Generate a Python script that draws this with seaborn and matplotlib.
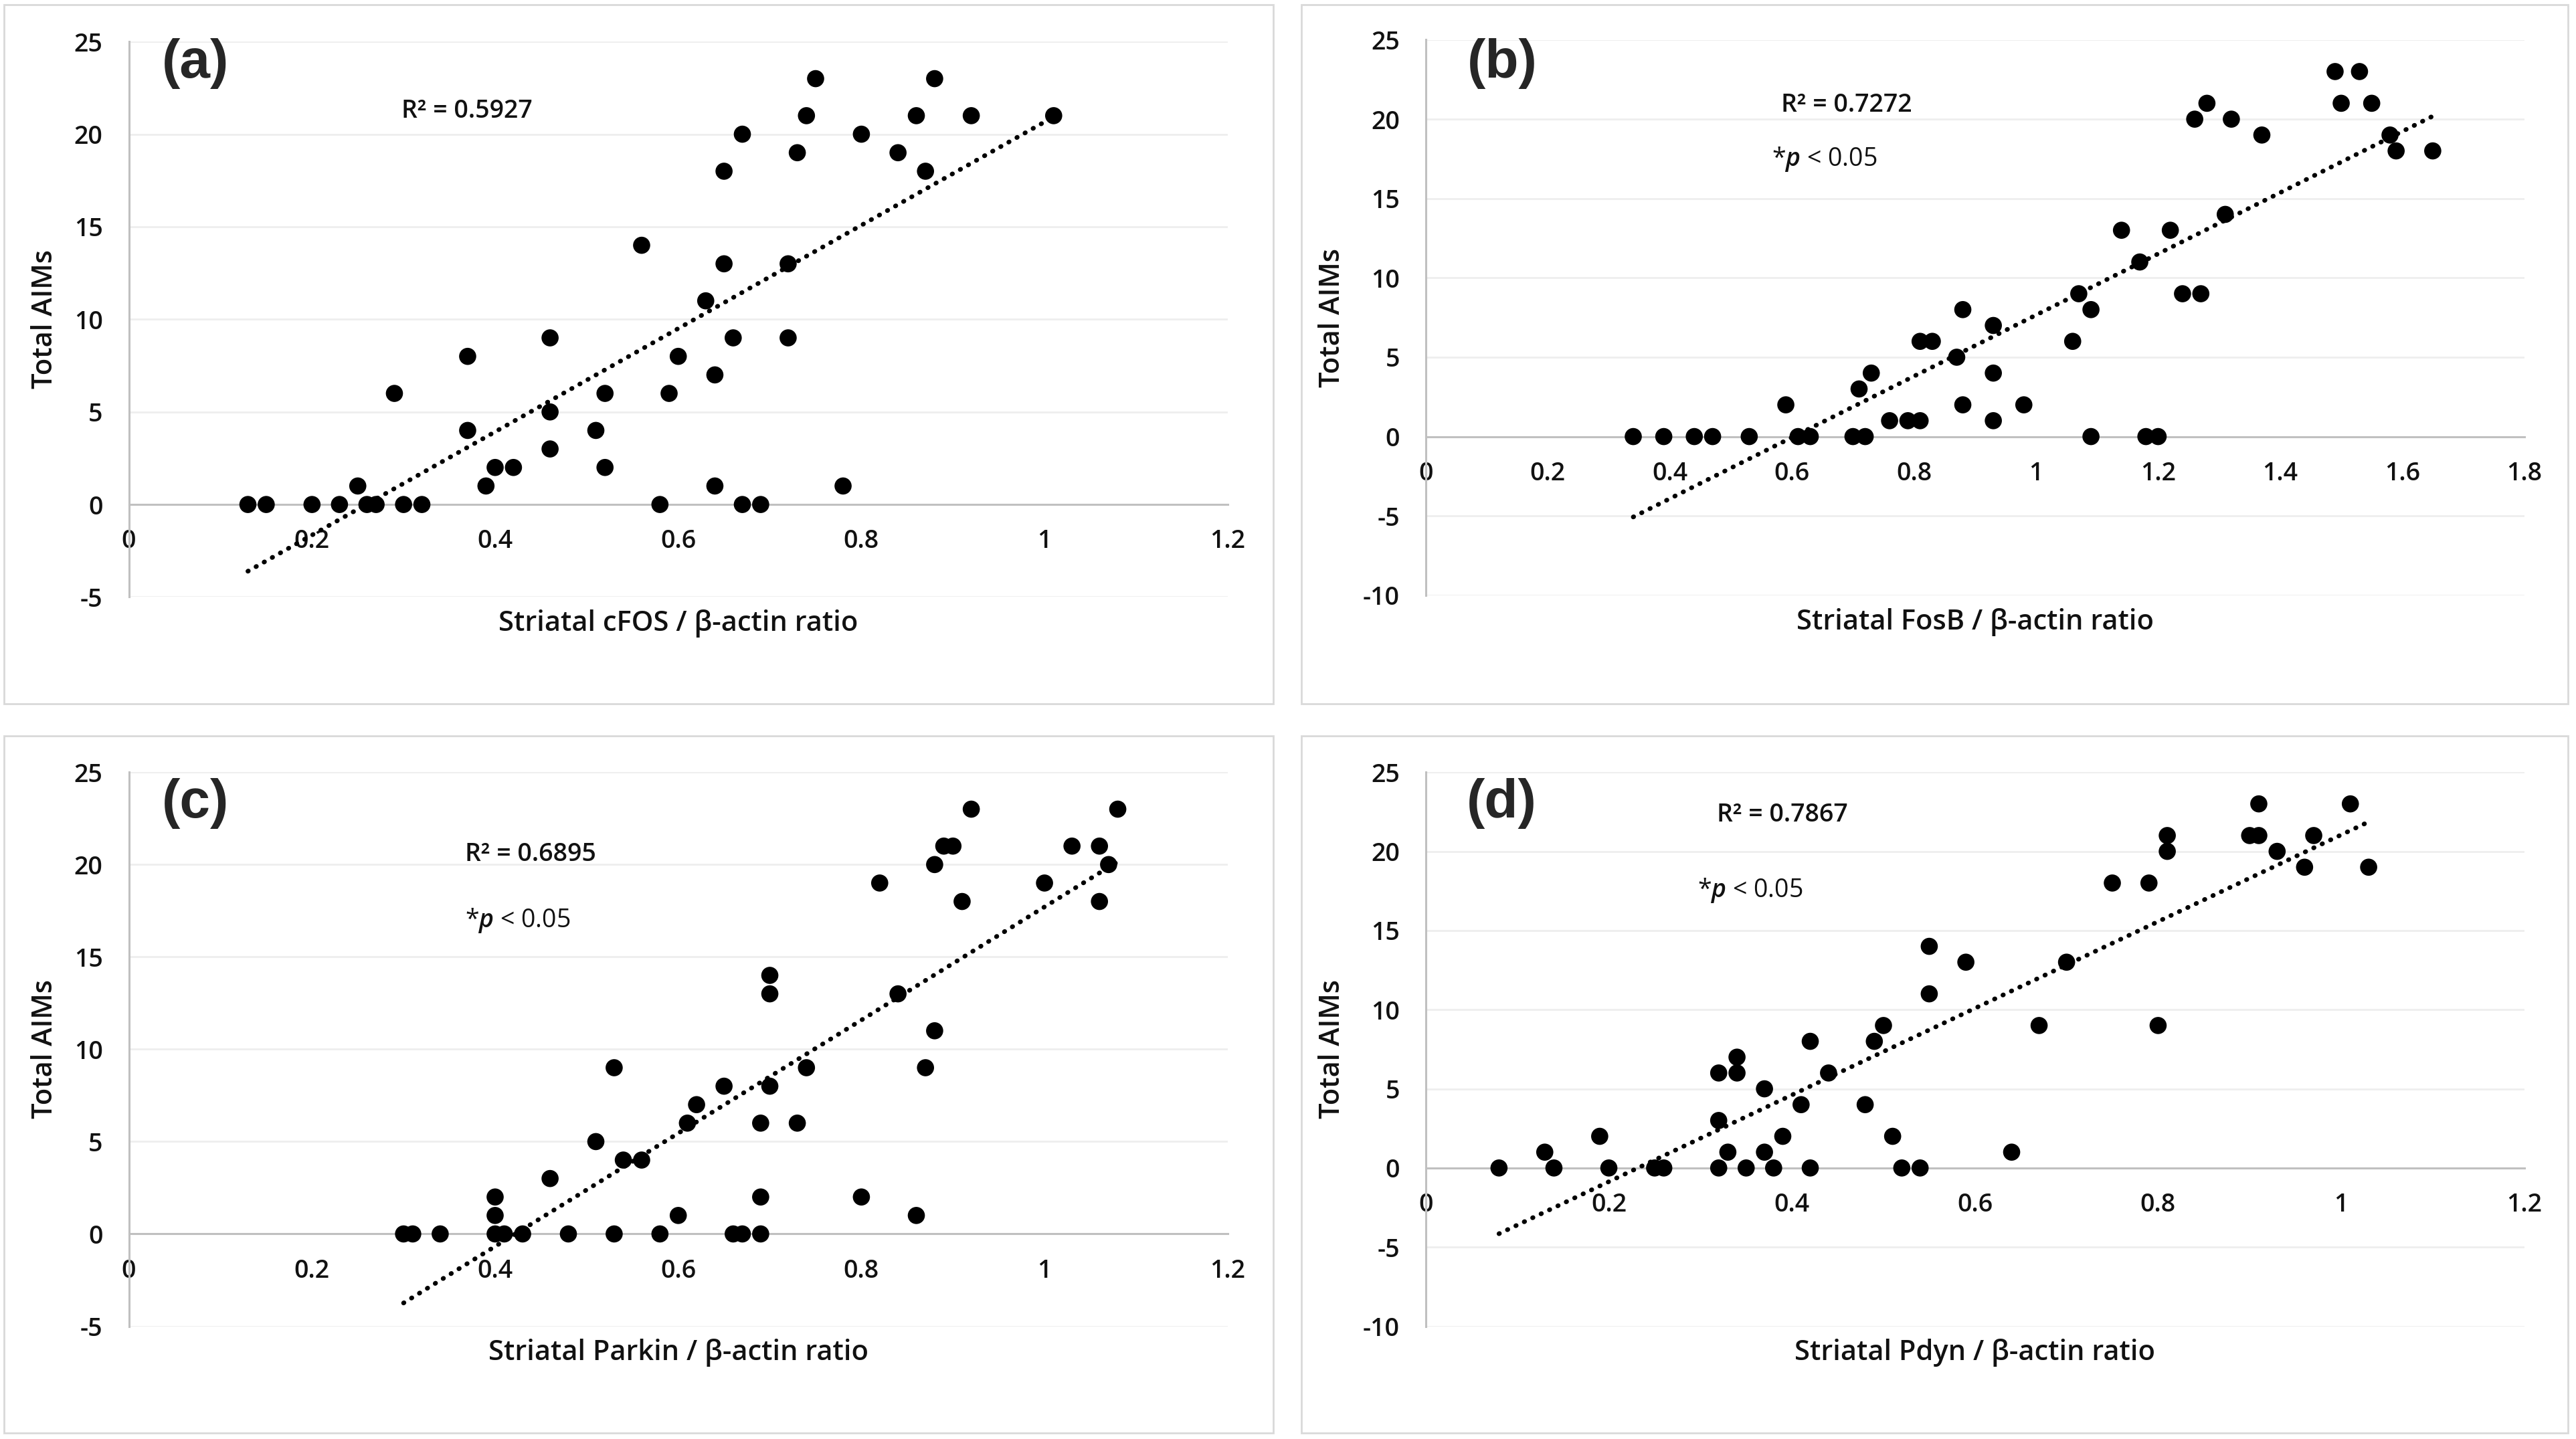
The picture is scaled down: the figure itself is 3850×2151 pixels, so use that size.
import numpy as np
import pandas as pd
import matplotlib
matplotlib.use('Agg')
import matplotlib.pyplot as plt
import seaborn as sns
from matplotlib.patches import Rectangle
from matplotlib.ticker import FuncFormatter

# values
cfos_x = [0.13, 0.15, 0.20, 0.23, 0.25, 0.26, 0.27, 0.29, 0.30, 0.32, 0.37, 0.37, 0.39, 0.40, 0.42, 0.46,
          0.46, 0.46, 0.51, 0.52, 0.52, 0.56, 0.58, 0.59, 0.60, 0.63, 0.64, 0.64, 0.65, 0.65, 0.66, 0.67,
          0.67, 0.69, 0.72, 0.72, 0.73, 0.74, 0.75, 0.78, 0.80, 0.84, 0.86, 0.87, 0.88, 0.92, 1.01]
cfos_y = [0, 0, 0, 0, 1, 0, 0, 6, 0, 0, 8, 4, 1, 2, 2, 9,
          5, 3, 4, 6, 2, 14, 0, 6, 8, 11, 7, 1, 18, 13, 9, 20,
          0, 0, 13, 9, 19, 21, 23, 1, 20, 19, 21, 18, 23, 21, 21]

fosb_x = [0.34, 0.39, 0.44, 0.47, 0.53, 0.59, 0.61, 0.63, 0.70, 0.72, 0.71, 0.73, 0.76, 0.79, 0.81, 0.81,
          0.83, 0.87, 0.88, 0.88, 0.93, 0.93, 0.93, 0.98, 1.06, 1.07, 1.09, 1.09, 1.14, 1.17, 1.18, 1.20,
          1.22, 1.24, 1.27, 1.26, 1.28, 1.31, 1.32, 1.37, 1.49, 1.50, 1.53, 1.55, 1.58, 1.59, 1.65]
fosb_y = [0, 0, 0, 0, 0, 2, 0, 0, 0, 0, 3, 4, 1, 1, 1, 6,
          6, 5, 8, 2, 7, 4, 1, 2, 6, 9, 8, 0, 13, 11, 0, 0,
          13, 9, 9, 20, 21, 14, 20, 19, 23, 21, 23, 21, 19, 18, 18]

parkin_x = [0.30, 0.31, 0.34, 0.40, 0.40, 0.40, 0.41, 0.43, 0.46, 0.48, 0.51, 0.53, 0.53, 0.54, 0.56, 0.58,
            0.60, 0.61, 0.62, 0.65, 0.66, 0.67, 0.69, 0.69, 0.69, 0.70, 0.70, 0.70, 0.73, 0.74, 0.80, 0.82,
            0.84, 0.86, 0.87, 0.88, 0.88, 0.89, 0.90, 0.91, 0.92, 1.00, 1.03, 1.06, 1.06, 1.07, 1.08]
parkin_y = [0, 0, 0, 2, 1, 0, 0, 0, 3, 0, 5, 9, 0, 4, 4, 0,
            1, 6, 7, 8, 0, 0, 0, 2, 6, 8, 13, 14, 6, 9, 2, 19,
            13, 1, 9, 11, 20, 21, 21, 18, 23, 19, 21, 21, 18, 20, 23]

pdyn_x = [0.08, 0.13, 0.14, 0.19, 0.20, 0.25, 0.26, 0.32, 0.32, 0.32, 0.33, 0.34, 0.34, 0.35, 0.37, 0.37,
          0.38, 0.39, 0.41, 0.42, 0.42, 0.44, 0.48, 0.49, 0.50, 0.51, 0.52, 0.54, 0.55, 0.55, 0.59, 0.64,
          0.67, 0.70, 0.75, 0.79, 0.80, 0.81, 0.81, 0.90, 0.91, 0.91, 0.93, 0.96, 0.97, 1.01, 1.03]
pdyn_y = [0, 1, 0, 2, 0, 0, 0, 6, 3, 0, 1, 7, 6, 0, 5, 1,
          0, 2, 4, 8, 0, 6, 4, 8, 9, 2, 0, 0, 14, 11, 13, 1,
          9, 13, 18, 18, 9, 21, 20, 21, 21, 23, 20, 19, 21, 23, 19]

tags = ['(a)', '(b)', '(c)', '(d)']
x_titles = ['Striatal cFOS / β-actin ratio', 'Striatal FosB / β-actin ratio',
            'Striatal Parkin / β-actin ratio', 'Striatal Pdyn / β-actin ratio']
r2_texts = ['R² = 0.5927', 'R² = 0.7272', 'R² = 0.6895', 'R² = 0.7867']
p_texts = [None, r'*$\mathit{p}$ < 0.05', r'*$\mathit{p}$ < 0.05', r'*$\mathit{p}$ < 0.05']
x_max = [1.2, 1.8, 1.2, 1.2]
y_min = [-5, -10, -5, -10]

W, H = 3850, 2151

sns.set_theme(style='white')
plt.rcParams['font.family'] = ['Open Sans', 'DejaVu Sans']
plt.rcParams['font.weight'] = 'semibold'
plt.rcParams['axes.labelweight'] = 'semibold'
plt.rcParams['axes.unicode_minus'] = False
plt.rcParams['mathtext.fontset'] = 'custom'
plt.rcParams['mathtext.rm'] = 'Open Sans'
plt.rcParams['mathtext.it'] = 'Open Sans:italic'


def fx(x):
    return x / W


def fy(y):
    return 1 - y / H


fig = plt.figure(figsize=(W / 100, H / 100), dpi=100)

# pixel boxes: left, right, top, bottom
axes_px = [(192.6, 1834.8, 62.2, 892.5), (2130.9, 3772.7, 59.5, 889.8),
           (192.6, 1834.8, 1154.3, 1982.5), (2130.9, 3772.7, 1154.3, 1982.5)]
frames_px = [(6, 1903, 7, 1052), (1945, 3838, 7, 1052),
             (6, 1903, 1100, 2142), (1945, 3838, 1100, 2142)]
tag_px = [(292, 95), (2245, 95), (292, 1201), (2244, 1201)]
r2_px = [(600, 166), (2662, 157), (695, 1277), (2566, 1218)]
p_px = [None, (2648, 238), (695, 1376), (2537, 1331)]
ylab_x = [-0.0765, -0.085, -0.0765, -0.085]

data = [(cfos_x, cfos_y), (fosb_x, fosb_y), (parkin_x, parkin_y), (pdyn_x, pdyn_y)]

for i, (xs, ys) in enumerate(data):
    l, r, t, b = axes_px[i]
    ax = fig.add_axes([fx(l), fy(b), (r - l) / W, (b - t) / H])
    df = pd.DataFrame({'ratio': xs, 'aims': ys})

    sns.scatterplot(data=df, x='ratio', y='aims', ax=ax, s=340, color='black',
                    edgecolor='none', zorder=3)
    sns.regplot(data=df, x='ratio', y='aims', ax=ax, scatter=False, ci=None, truncate=True,
                line_kws=dict(color='black', lw=5, linestyle=(0, (0.1, 1.9)),
                              dash_capstyle='round', zorder=4))

    ax.set_xlim(0, x_max[i])
    ax.set_ylim(y_min[i], 25)
    ax.set_xticks(np.arange(0, x_max[i] + 0.01, 0.2))
    ax.set_yticks(np.arange(y_min[i], 26, 5))
    fmt = FuncFormatter(lambda v, pos: '%g' % round(v, 2))
    ax.xaxis.set_major_formatter(fmt)
    ax.yaxis.set_major_formatter(fmt)
    ax.tick_params(length=0, labelsize=27, colors='#111111')
    ax.tick_params(axis='y', pad=28)
    ax.tick_params(axis='x', pad=26)
    plt.setp(ax.get_xticklabels() + ax.get_yticklabels(), fontweight='semibold')

    ax.yaxis.grid(True, color='#eeeeee', lw=2)
    ax.xaxis.grid(False)
    ax.set_axisbelow(True)
    for s in ['top', 'right']:
        ax.spines[s].set_visible(False)
    ax.spines['bottom'].set_position(('data', 0))
    ax.spines['bottom'].set_color('#c0c0c0')
    ax.spines['bottom'].set_linewidth(2.2)
    ax.spines['left'].set_color('#c0c0c0')
    ax.spines['left'].set_linewidth(2.2)

    ax.set_xlabel(x_titles[i], fontsize=30, fontweight='semibold', color='#111111', va='center')
    ax.xaxis.set_label_coords(0.5, -0.048)
    ax.set_ylabel('Total AIMs', fontsize=30, fontweight='semibold', color='#111111', va='center')
    ax.yaxis.set_label_coords(ylab_x[i], 0.5)

    fig.text(fx(tag_px[i][0]), fy(tag_px[i][1]), tags[i], fontsize=59, fontweight='bold',
             family='Liberation Sans', ha='center', va='center')
    fig.text(fx(r2_px[i][0]), fy(r2_px[i][1]), r2_texts[i], fontsize=27, fontweight='semibold',
             ha='left', va='center', color='#111111')
    if p_texts[i]:
        fig.text(fx(p_px[i][0]), fy(p_px[i][1]), p_texts[i], fontsize=27, fontweight='normal',
                 ha='left', va='center', color='#111111')

    fl, fr, ft, fb = frames_px[i]
    fig.patches.append(Rectangle((fx(fl), fy(fb)), (fr - fl) / W, (fb - ft) / H,
                                 transform=fig.transFigure, fill=False,
                                 edgecolor='#d9d9d9', lw=2))

fig.savefig('out.png', dpi=100, facecolor='white')
